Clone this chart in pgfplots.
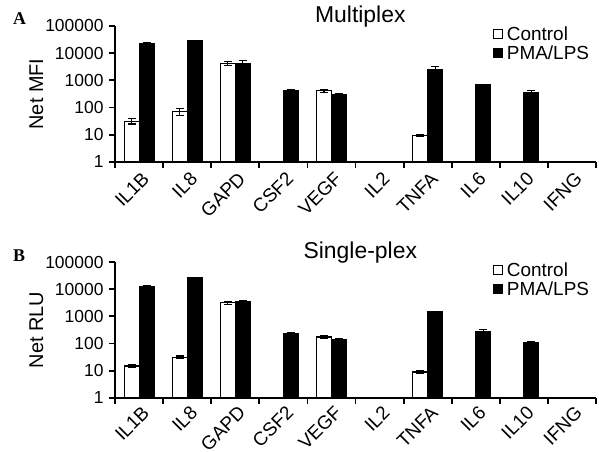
\documentclass[border=0pt]{standalone}
\usepackage{pgfplots}
\pgfplotsset{compat=1.18}
\usepackage{fontspec}
\setmainfont{Liberation Sans}
\newfontfamily\serifb{Liberation Serif}

\begin{document}
\begin{tikzpicture}
\useasboundingbox (0bp,0bp) rectangle (599bp,452bp);

% Panel A
\begin{axis}[
    at={(115bp,290bp)}, anchor=south west,
    scale only axis, width=481bp, height=136bp,
    ybar=0pt, bar width=15bp,
    ymode=log, ymin=1, ymax=100000,
    xmin=-0.5, xmax=9.5,
    axis x line*=bottom, axis y line*=left,
    axis line style={line width=1.8bp},
    tick align=outside, major tick length=0bp, minor tick length=6bp,
    tick style={black, line width=1.8bp},
    xtick={0,1,2,3,4,5,6,7,8,9},
    xticklabels={IL1B,IL8,GAPD,CSF2,VEGF,IL2,TNFA,IL6,IL10,IFNG},
    minor xtick={-0.5,0.5,1.5,2.5,3.5,4.5,5.5,6.5,7.5,8.5,9.5},
    xticklabel style={rotate=45, anchor=east, xshift=-1.5bp, yshift=-14.5bp, font=\fontsize{19}{20}\selectfont},
    ytick={1,10,100,1000,10000,100000},
    yticklabels={1,10,100,1000,10000,100000},
    minor ytick={1,10,100,1000,10000,100000},
    yticklabel style={xshift=-8bp, font=\fontsize{17.5}{19}\selectfont},
    title={Multiplex}, ylabel={Net MFI},
    ylabel style={font=\fontsize{20}{22}\selectfont, at={(axis description cs:-0.185,0.5)}, anchor=north},
    title style={font=\fontsize{23}{26}\selectfont, at={(axis description cs:0.51,1)}, anchor=base, yshift=-2bp},
    legend style={draw=none, fill=none, at={(0.99,1.01)}, anchor=north east, font=\fontsize{19}{21}\selectfont, legend cell align=left, inner sep=0pt},
]
\addplot[fill=white, draw=black, line width=1.1bp,
  legend image code/.code={\draw[fill=white, draw=black, line width=0.9bp] (0bp,-4bp) rectangle (9bp,5bp); \path[draw=none, fill=none] (0bp,0bp) -- (12bp,0bp);},
  error bars/.cd, y dir=both, y explicit, error bar style={black, line width=1.1bp}, error mark options={rotate=90, black, line width=1.1bp, mark size=4bp}] coordinates {
  (0,32) +- (0,7)
  (1,70) +- (0,20)
  (2,4300) +- (0,800)
  (4,420) +- (0,60)
  (6,9.5) +- (0,1)
};
\addplot[fill=black, draw=black, line width=1.1bp,
  legend image code/.code={\draw[fill=black, draw=black, line width=0.9bp] (0bp,-4bp) rectangle (9bp,5bp); \path[draw=none, fill=none] (0bp,0bp) -- (12bp,0bp);},
  error bars/.cd, y dir=both, y explicit, error bar style={black, line width=1.1bp}, error mark options={rotate=90, black, line width=1.1bp, mark size=4bp}] coordinates {
  (0,23000) +- (0,2000)
  (1,28000) +- (0,1500)
  (2,4300) +- (0,900)
  (3,420) +- (0,25)
  (4,310) +- (0,25)
  (6,2600) +- (0,550)
  (7,680) +- (0,30)
  (8,350) +- (0,70)
};
\legend{Control, PMA/LPS}
\end{axis}

% Panel B
\begin{axis}[
    at={(115bp,54bp)}, anchor=south west,
    scale only axis, width=481bp, height=136bp,
    ybar=0pt, bar width=15bp,
    ymode=log, ymin=1, ymax=100000,
    xmin=-0.5, xmax=9.5,
    axis x line*=bottom, axis y line*=left,
    axis line style={line width=1.8bp},
    tick align=outside, major tick length=0bp, minor tick length=6bp,
    tick style={black, line width=1.8bp},
    xtick={0,1,2,3,4,5,6,7,8,9},
    xticklabels={IL1B,IL8,GAPD,CSF2,VEGF,IL2,TNFA,IL6,IL10,IFNG},
    minor xtick={-0.5,0.5,1.5,2.5,3.5,4.5,5.5,6.5,7.5,8.5,9.5},
    xticklabel style={rotate=45, anchor=east, xshift=0bp, yshift=-13bp, font=\fontsize{19}{20}\selectfont},
    ytick={1,10,100,1000,10000,100000},
    yticklabels={1,10,100,1000,10000,100000},
    minor ytick={1,10,100,1000,10000,100000},
    yticklabel style={xshift=-8bp, font=\fontsize{17.5}{19}\selectfont},
    title={Single-plex}, ylabel={Net RLU},
    ylabel style={font=\fontsize{20}{22}\selectfont, at={(axis description cs:-0.185,0.5)}, anchor=north},
    title style={font=\fontsize{23}{26}\selectfont, at={(axis description cs:0.51,1)}, anchor=base, yshift=-2bp},
    legend style={draw=none, fill=none, at={(0.99,1.01)}, anchor=north east, font=\fontsize{19}{21}\selectfont, legend cell align=left, inner sep=0pt},
]
\addplot[fill=white, draw=black, line width=1.1bp,
  legend image code/.code={\draw[fill=white, draw=black, line width=0.9bp] (0bp,-4bp) rectangle (9bp,5bp); \path[draw=none, fill=none] (0bp,0bp) -- (12bp,0bp);},
  error bars/.cd, y dir=both, y explicit, error bar style={black, line width=1.1bp}, error mark options={rotate=90, black, line width=1.1bp, mark size=4bp}] coordinates {
  (0,15) +- (0,1.5)
  (1,32) +- (0,3)
  (2,3200) +- (0,400)
  (4,175) +- (0,15)
  (6,9) +- (0,1.2)
};
\addplot[fill=black, draw=black, line width=1.1bp,
  legend image code/.code={\draw[fill=black, draw=black, line width=0.9bp] (0bp,-4bp) rectangle (9bp,5bp); \path[draw=none, fill=none] (0bp,0bp) -- (12bp,0bp);},
  error bars/.cd, y dir=both, y explicit, error bar style={black, line width=1.1bp}, error mark options={rotate=90, black, line width=1.1bp, mark size=4bp}] coordinates {
  (0,12500) +- (0,700)
  (1,27000) +- (0,800)
  (2,3600) +- (0,300)
  (3,240) +- (0,15)
  (4,140) +- (0,8)
  (6,1500) +- (0,60)
  (7,280) +- (0,50)
  (8,110) +- (0,6)
};
\legend{Control, PMA/LPS}
\end{axis}

\node[anchor=base west, font=\serifb\bfseries\fontsize{18}{18}\selectfont, inner sep=0pt] at (13bp,427bp) {A};
\node[anchor=base west, font=\serifb\bfseries\fontsize{18}{18}\selectfont, inner sep=0pt] at (13bp,190bp) {B};
\end{tikzpicture}
\end{document}
